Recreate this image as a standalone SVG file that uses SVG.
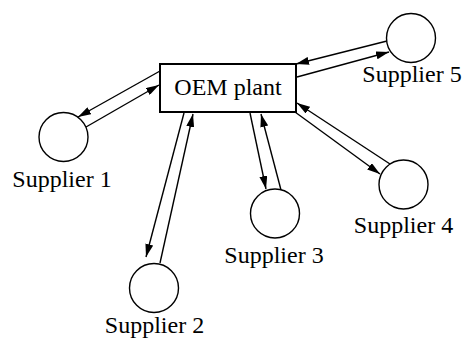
<svg xmlns="http://www.w3.org/2000/svg" width="462" height="338" viewBox="0 0 462 338">
<defs>
<style>
.node circle{fill:#fff;stroke:#000;stroke-width:1.4}
.node rect{fill:#fff;stroke:#000;stroke-width:2}
text{font-family:"Liberation Serif","Times New Roman",serif;font-size:24px;fill:#000;text-anchor:middle}
#connectors line{stroke:#000;stroke-width:1.4;marker-end:url(#ah)}
</style>
<marker id="ah" markerUnits="userSpaceOnUse" markerWidth="13" markerHeight="8" refX="13" refY="4" orient="auto">
<path d="M0,0 L13,4 L0,8 z" fill="#000"/>
</marker>
</defs>
<rect width="462" height="338" fill="#fff"/>
<g id="connectors">
<line x1="160" y1="71" x2="78" y2="117"/>
<line x1="86" y1="127" x2="159" y2="85"/>
<line x1="184" y1="113" x2="146" y2="257"/>
<line x1="160" y1="263" x2="193" y2="114"/>
<line x1="250" y1="113" x2="266" y2="189"/>
<line x1="281" y1="190" x2="261" y2="114"/>
<line x1="295" y1="112" x2="380" y2="174"/>
<line x1="390" y1="164" x2="297" y2="103"/>
<line x1="387" y1="41" x2="296" y2="64"/>
<line x1="297" y1="77" x2="389" y2="52"/>
</g>
<g id="oem" class="node">
<rect x="160" y="64" width="136" height="48"/>
<text x="228" y="95">OEM plant</text>
</g>
<g id="supplier1" class="node">
<circle cx="63.5" cy="137" r="24.5"/>
<text x="62" y="187">Supplier 1</text>
</g>
<g id="supplier2" class="node">
<circle cx="154" cy="288" r="24.5"/>
<text x="154.5" y="333">Supplier 2</text>
</g>
<g id="supplier3" class="node">
<circle cx="275" cy="213.5" r="24.5"/>
<text x="274" y="263">Supplier 3</text>
</g>
<g id="supplier4" class="node">
<circle cx="403.5" cy="184.5" r="24.5"/>
<text x="403.5" y="233">Supplier 4</text>
</g>
<g id="supplier5" class="node">
<circle cx="411" cy="38" r="24.5"/>
<text x="412" y="82">Supplier 5</text>
</g>
</svg>
